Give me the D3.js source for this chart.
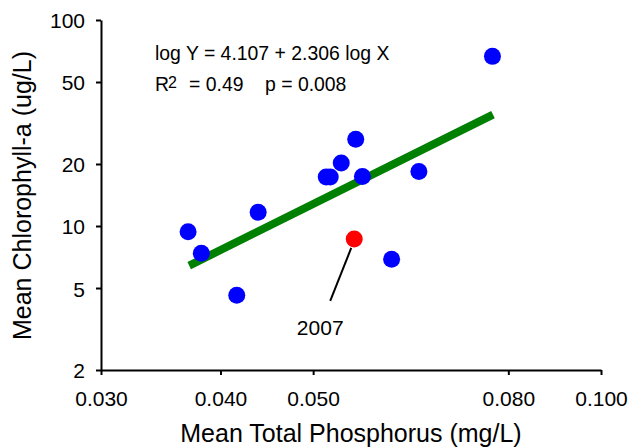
<!DOCTYPE html>
<html>
<head>
<meta charset="utf-8">
<script src="https://cdn.jsdelivr.net/npm/d3@7"></script>
<style>
  html, body { margin: 0; padding: 0; background: #fff; }
  svg { display: block; font-family: "Liberation Sans", Arial, sans-serif; }
</style>
</head>
<body>
<svg id="chart" width="629" height="448"></svg>
<script>
// Mean total phosphorus (mg/L) and mean chlorophyll-a (ug/L), one point per year
const tpValues   = [0.0370, 0.0382, 0.0416, 0.0438, 0.0516, 0.0521, 0.0535, 0.0554, 0.0563, 0.0645, 0.0604, 0.0770];
const chlaValues = [9.38, 7.37, 4.61, 11.66, 17.3, 17.3, 20.2, 26.4, 17.4, 18.4, 6.89, 66.6];

// Highlighted year
const highlightYear = ["2007"];
const highlightTP   = [0.0552];
const highlightChla = [8.65];

// Log-log regression: log Y = a + b log X, drawn over the observed TP span
const fitIntercept = [4.107];
const fitSlope     = [2.306];
const fitRangeX    = [0.0371, 0.0771];

// Axis tick values
const xTicks = [0.030, 0.040, 0.050, 0.080, 0.100];
const yTicks = [2, 5, 10, 20, 50, 100];

const svg = d3.select("#chart");
const plotLeft = 101, plotRight = 601, plotTop = 20, plotBottom = 370;

const x = d3.scaleLog().domain([0.030, 0.100]).range([plotLeft, plotRight]);
const y = d3.scaleLog().domain([2, 100]).range([plotBottom, plotTop]);

// Axes
const xAxis = d3.axisBottom(x)
  .tickValues(xTicks)
  .tickFormat(d3.format(".3f"))
  .tickSize(5)
  .tickSizeOuter(0)
  .tickPadding(16);
const yAxis = d3.axisLeft(y)
  .tickValues(yTicks)
  .tickFormat(d3.format("d"))
  .tickSize(5)
  .tickSizeOuter(0)
  .tickPadding(11);

const gx = svg.append("g").attr("transform", `translate(0,${plotBottom})`).call(xAxis);
const gy = svg.append("g").attr("transform", `translate(${plotLeft},0)`).call(yAxis);

[gx, gy].forEach(g => {
  g.select(".domain").attr("stroke", "#000").attr("stroke-width", 2);
  g.selectAll(".tick line").attr("stroke", "#000").attr("stroke-width", 2);
  g.selectAll(".tick text")
    .attr("fill", "#000")
    .style("font-size", "21px")
    .style("font-family", "'Liberation Sans', Arial, sans-serif");
});
gy.selectAll(".tick text").attr("dy", "0.38em");

// Axis titles
svg.append("text")
  .attr("x", (plotLeft + plotRight) / 2)
  .attr("y", 442)
  .attr("text-anchor", "middle")
  .style("font-size", "25px")
  .text("Mean Total Phosphorus (mg/L)");

svg.append("text")
  .attr("transform", `translate(31,${(52 + 339) / 2}) rotate(-90)`)
  .attr("text-anchor", "middle")
  .style("font-size", "25px")
  .text("Mean Chlorophyll-a (ug/L)");

// Regression line
const fitY = xv => Math.pow(10, fitIntercept[0] + fitSlope[0] * Math.log10(xv));
const fitPts = fitRangeX.map(xv => [x(xv), y(fitY(xv))]);
svg.append("path")
  .attr("d", d3.line()(fitPts))
  .attr("stroke", "#008000")
  .attr("stroke-width", 8)
  .attr("fill", "none");

// Data points
const pts = tpValues.map((tp, i) => ({ tp, chla: chlaValues[i] }));
svg.append("g").selectAll("circle")
  .data(pts)
  .join("circle")
  .attr("cx", d => x(d.tp))
  .attr("cy", d => y(d.chla))
  .attr("r", 8.5)
  .attr("fill", "#0000FF");

// Highlighted year with leader line
const hx = x(highlightTP[0]), hy = y(highlightChla[0]);
svg.append("line")
  .attr("x1", hx - 3).attr("y1", hy + 9)
  .attr("x2", hx - 24).attr("y2", hy + 62)
  .attr("stroke", "#000")
  .attr("stroke-width", 2);
svg.append("circle")
  .attr("cx", hx).attr("cy", hy).attr("r", 8.5)
  .attr("fill", "#FF0000");
svg.append("text")
  .attr("x", hx - 34).attr("y", hy + 96)
  .attr("text-anchor", "middle")
  .style("font-size", "21px")
  .text(highlightYear[0]);

// Regression annotation
const ann = svg.append("g").style("font-size", "19.4px");
ann.append("text").attr("x", 155).attr("y", 60)
  .text(`log Y = ${fitIntercept[0].toFixed(3)} + ${fitSlope[0].toFixed(3)} log X`);
ann.append("text").attr("x", 155).attr("y", 91).text("R");
ann.append("text").attr("x", 168).attr("y", 88).style("font-size", "16px").text("2");
ann.append("text").attr("x", 189).attr("y", 91).text("= 0.49");
ann.append("text").attr("x", 265).attr("y", 91).text("p = 0.008");
</script>
</body>
</html>
